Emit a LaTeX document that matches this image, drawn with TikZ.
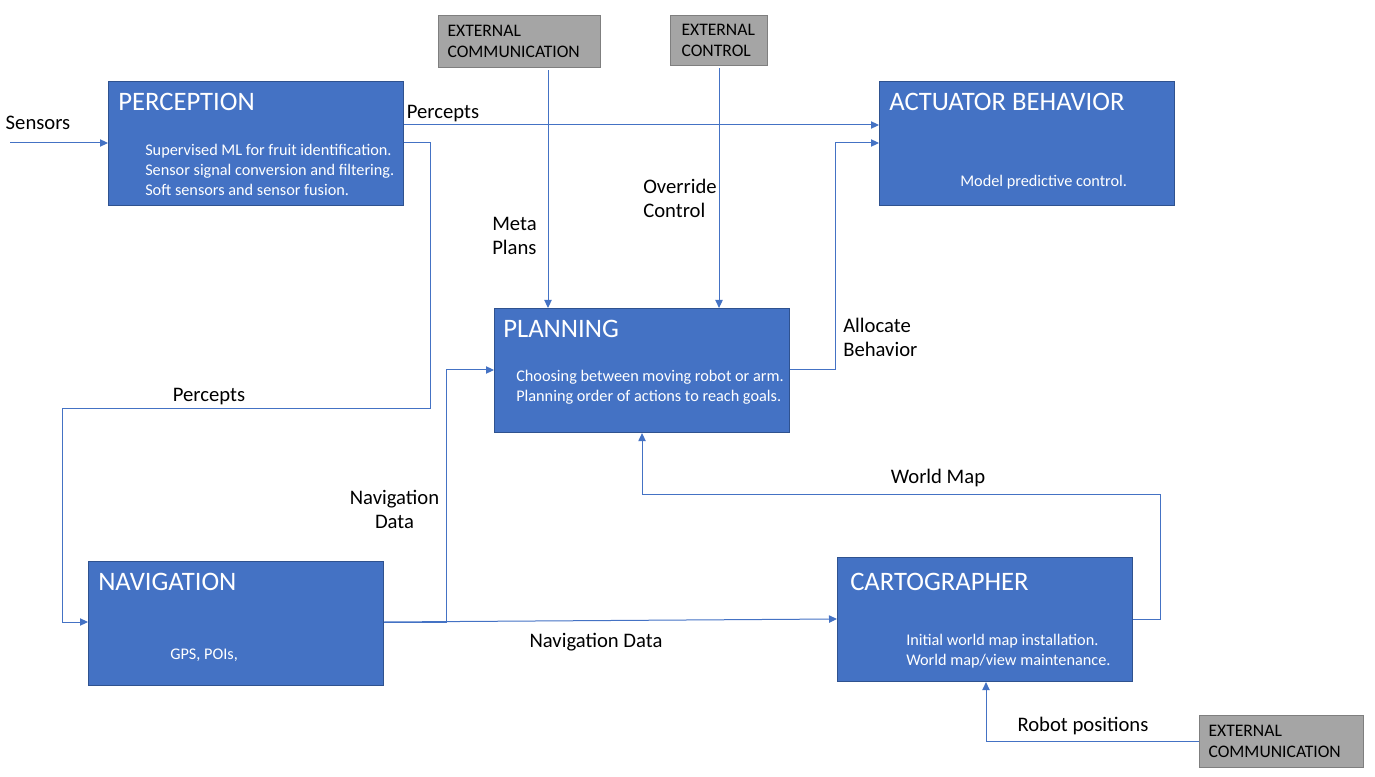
\documentclass[tikz,border=0pt]{standalone}
\usepackage{fontspec}
\setmainfont{Carlito}
\usetikzlibrary{arrows.meta,positioning,calc}
\definecolor{bxblue}{HTML}{4472C4}
\definecolor{bxedge}{HTML}{2F528F}
\definecolor{bxgrey}{HTML}{A5A5A5}
\definecolor{bxgreyedge}{HTML}{7F7F7F}
\definecolor{lnblue}{HTML}{4472C4}

\begin{document}
\begin{tikzpicture}[x=0.75pt,y=-0.75pt,
  blockbox/.style={draw=bxedge,fill=bxblue,line width=0.8pt,anchor=north west,inner sep=0,minimum width=221.25pt,minimum height=93pt},
  blocktitle/.style={anchor=west,inner sep=0,text=white,font=\fontsize{20}{23}\selectfont},
  blocknote/.style={anchor=west,inner sep=0,text=white,align=left,font=\fontsize{12.2}{15}\selectfont},
  extbox/.style={draw=bxgreyedge,fill=bxgrey,line width=0.8pt,anchor=north west,inner xsep=6.75pt,inner ysep=0,align=left,font=\fontsize{13.2}{15.75}\selectfont},
  flowlabel/.style={inner sep=0,font=\fontsize{15.5}{18}\selectfont},
  flow/.style={draw=lnblue,line width=0.75pt,-{Triangle[length=6pt,width=5.5pt]}}]
\useasboundingbox (0,0) rectangle (1375,777);

\foreach \n/\x/\y/\dx/\dy/\t in {perc/108/81/10/21/PERCEPTION, act/879/81/10/21/ACTUATOR BEHAVIOR, plan/494/308/9/21/PLANNING, nav/88/561/10/21/NAVIGATION, carto/837/557/13/25/CARTOGRAPHER} {
  \node[blockbox] (\n) at (\x,\y) {};
  \node[blocktitle] (\n-title) at ($(\n.north west)+(\dx,\dy)$) {\t};
}
\node[blocknote] (perc-note) at ($(perc.north west)+(37,89)$) {Supervised ML for fruit identification.\\Sensor signal conversion and filtering.\\Soft sensors and sensor fusion.};
\node[blocknote] (act-note) at ($(act.north west)+(81,101)$) {Model predictive control.};
\node[blocknote] (plan-note) at ($(plan.north west)+(22,79.5)$) {Choosing between moving robot or arm.\\Planning order of actions to reach goals.};
\node[blocknote] (nav-note) at ($(nav.north west)+(82,94)$) {GPS, POIs,};
\node[blocknote] (carto-note) at ($(carto.north west)+(69,94)$) {Initial world map installation.\\World map/view maintenance.};

\node[extbox,text width=108pt,minimum height=39pt] (excomA) at (438,15) {EXTERNAL\\COMMUNICATION};
\node[extbox,text width=56.25pt,inner xsep=8.25pt,minimum height=37.5pt] (exctl) at (670,15) {EXTERNAL\\CONTROL};
\node[extbox,text width=109.5pt,minimum height=39pt] (excomB) at (1199,715) {EXTERNAL\\COMMUNICATION};

\coordinate (sensin) at (10,143);
\draw[flow] (sensin) -- (sensin -| perc.west);
\draw[flow] ($(perc.north east)+(0,44)$) -- ($(act.north west)+(0,44)$);
\coordinate (pn1) at (430,408);
\coordinate (pn2) at (62,408);
\draw[flow] ($(perc.north east)+(0,62)$) -| (pn1) -- (pn2) |- ($(nav.north west)+(0,61)$);
\draw[flow] ($(excomA.south west)+(110,2)$) -- ($(plan.north west)+(54,0)$);
\draw[flow] ([yshift=-1.5pt]exctl.south) -- (exctl.south |- plan.north);
\draw[flow] ($(plan.north east)+(0,62)$) -- ++(45,0) |- ($(act.north west)+(0,62)$);
\draw[flow] ($(nav.north east)+(0,61)$) -- ++(62,0) |- ($(plan.north west)+(0,62)$);
\draw[flow] ($(nav.north east)+(0,61)$) -- ($(carto.north west)+(0,62)$);
\coordinate (wm) at (1160,494);
\draw[flow] ($(carto.north east)+(0,62)$) -| (wm) -| (plan.south);
\draw[flow] (excomB.west) -| ($(carto.south west)+(149,0)$);

\node[flowlabel] (l-sens) at (38,123) {Sensors};
\node[flowlabel] (l-perc1) at (443,114) {Percepts};
\node[flowlabel] (l-perc2) at (209,397) {Percepts};
\node[flowlabel,align=left,anchor=west] (l-meta) at (492,236) {Meta\\Plans};
\node[flowlabel,align=left,anchor=west] (l-over) at (643,198.5) {Override\\Control};
\node[flowlabel,align=left,anchor=west] (l-alloc) at (843,337.5) {Allocate\\Behavior};
\node[flowlabel,align=center] (l-nav1) at (394.5,509.5) {Navigation\\Data};
\node[flowlabel] (l-nav2) at (596,642) {Navigation Data};
\node[flowlabel] (l-world) at (938,478) {World Map};
\node[flowlabel] (l-robot) at (1083,726) {Robot positions};
\end{tikzpicture}
\end{document}
